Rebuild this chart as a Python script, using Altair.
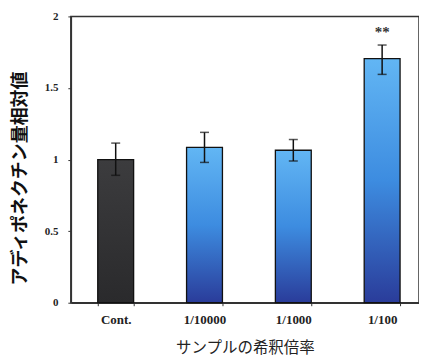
import altair as alt
import pandas as pd

categories = ["Cont.", "1/10000", "1/1000", "1/100"]
values = [1.00, 1.085, 1.065, 1.705]
err_low = [0.89, 0.98, 0.99, 1.595]
err_high = [1.115, 1.19, 1.14, 1.80]
marks = ["", "", "", "**"]
group = ["control", "sample", "sample", "sample"]

df = pd.DataFrame({
    "cat": categories,
    "value": values,
    "lo": err_low,
    "hi": err_high,
    "mark": marks,
    "group": group,
})

W, H = 349, 287

x_enc = alt.X(
    "cat:N",
    sort=categories,
    scale=alt.Scale(paddingInner=0.596, paddingOuter=0.258, align=0.587),
    axis=alt.Axis(
        title="サンプルの希釈倍率",
        labelAngle=0,
        labelFont="Liberation Serif",
        labelFontWeight="bold",
        labelFontSize=13,
        labelColor="#222222",
        labelPadding=8,
        tickBand="extent",
        tickSize=3,
        tickColor="#333333",
        domainColor="#333333",
        domainWidth=1.5,
        titleFont="Noto Sans CJK JP",
        titleFontWeight="normal",
        titleFontSize=15.5,
        titleColor="#222222",
        titleY=45,
        titleBaseline="middle",
    ),
)

y_scale = alt.Scale(domain=[0, 2], nice=False)
y_enc = alt.Y(
    "value:Q",
    scale=y_scale,
    axis=alt.Axis(
        title="アディポネクチン量相対値",
        values=[0, 0.5, 1, 1.5, 2],
        format="~g",
        grid=False,
        labelFont="Liberation Serif",
        labelFontWeight="bold",
        labelFontSize=11,
        labelColor="#222222",
        labelPadding=10,
        tickSize=3,
        tickColor="#333333",
        domainColor="#333333",
        domainWidth=1.5,
        titleFont="Noto Sans CJK JP",
        titleFontWeight="bold",
        titleFontSize=18,
        titleColor="#111111",
        titleAngle=270,
        titleX=-50,
        titleY=162,
        titleAlign="center",
        titleBaseline="middle",
        titleLimit=300,
    ),
)

blue_grad = alt.Gradient(
    gradient="linear",
    stops=[
        alt.GradientStop(color="#62b6f4", offset=0),
        alt.GradientStop(color="#3d8ce0", offset=0.5),
        alt.GradientStop(color="#2a3c9a", offset=1),
    ],
    x1=0, x2=0, y1=0, y2=1,
)
dark_grad = alt.Gradient(
    gradient="linear",
    stops=[
        alt.GradientStop(color="#3c3c3e", offset=0),
        alt.GradientStop(color="#2a2a2c", offset=1),
    ],
    x1=0, x2=0, y1=0, y2=1,
)

base = alt.Chart(df)

bars_ctrl = base.transform_filter(alt.datum.group == "control").mark_bar(
    color=dark_grad, stroke="#111111", strokeWidth=1.3
).encode(x=x_enc, y=y_enc)

bars_samp = base.transform_filter(alt.datum.group == "sample").mark_bar(
    color=blue_grad, stroke="#111111", strokeWidth=1.3
).encode(x=x_enc, y=y_enc)

rules = base.mark_rule(color="#111111", strokeWidth=1.5).encode(
    x=alt.X("cat:N", sort=categories),
    y=alt.Y("lo:Q", scale=y_scale),
    y2="hi:Q",
)
caps_hi = base.mark_tick(color="#111111", size=9, thickness=1.5).encode(
    x=alt.X("cat:N", sort=categories),
    y=alt.Y("hi:Q", scale=y_scale),
)
caps_lo = base.mark_tick(color="#111111", size=9, thickness=1.5).encode(
    x=alt.X("cat:N", sort=categories),
    y=alt.Y("lo:Q", scale=y_scale),
)
stars = base.mark_text(
    dy=-13, font="Liberation Serif", fontSize=15, fontWeight="bold", color="#333333"
).encode(
    x=alt.X("cat:N", sort=categories),
    y=alt.Y("hi:Q", scale=y_scale),
    text="mark:N",
)

chart = alt.layer(bars_ctrl, bars_samp, rules, caps_hi, caps_lo, stars).properties(
    width=W,
    height=H,
    autosize=alt.AutoSizeParams(type="none"),
    padding={"left": 63, "top": 8, "right": 0, "bottom": 58},
    background="white",
).configure_view(
    stroke="#333333", strokeWidth=1.5
)

chart.save("out.html", embed_options={"renderer": "svg", "actions": False})
